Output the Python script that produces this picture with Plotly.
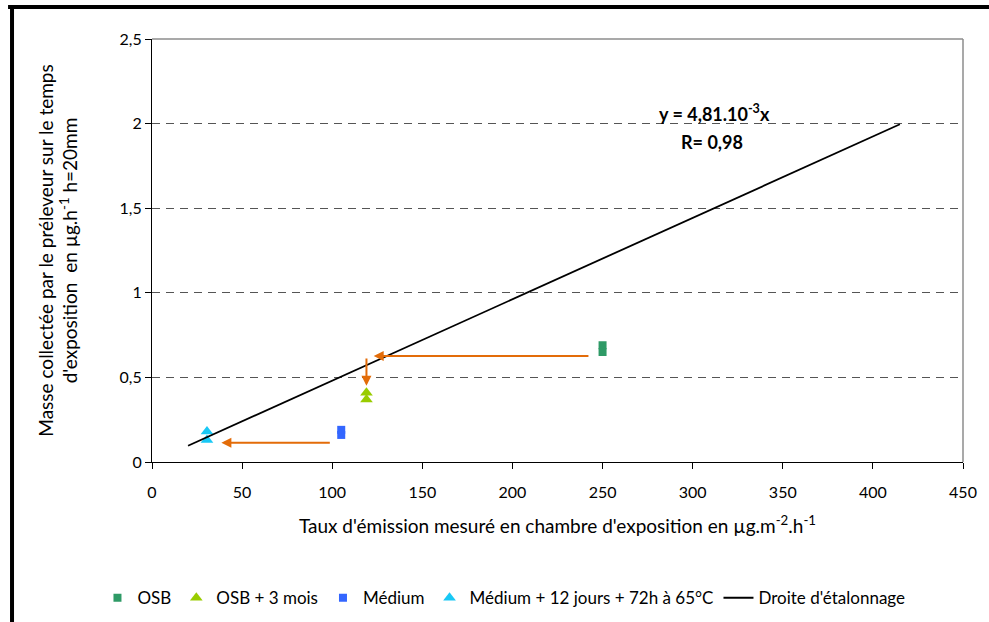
import plotly.graph_objects as go

# Data
osb_x = [250, 250]
osb_y = [0.69, 0.65]
osb3_x = [119, 119]
osb3_y = [0.41, 0.37]
med_x = [105, 105]
med_y = [0.19, 0.16]
med12_x = [30.5, 30.5]
med12_y = [0.18, 0.13]
line_x = [20, 415]
line_y = [0.096, 1.996]

x_ticks = [0, 50, 100, 150, 200, 250, 300, 350, 400, 450]
y_ticks = [0, 0.5, 1, 1.5, 2, 2.5]
y_ticklabels = ["0", "0,5", "1", "1,5", "2", "2,5"]

# arrows: (x_from, y_from, x_to, y_to)
arrows = [
    (243, 0.627, 123, 0.627),
    (119, 0.62, 119, 0.45),
    (99.5, 0.114, 38.5, 0.114),
]

FONT = "Lato"
ORANGE = "#E36C09"

fig = go.Figure()
fig.add_trace(go.Scatter(x=osb_x, y=osb_y, mode="markers", name="OSB",
                         marker=dict(symbol="square", size=8, color="#2E9A66")))
fig.add_trace(go.Scatter(x=osb3_x, y=osb3_y, mode="markers", name="OSB + 3 mois",
                         marker=dict(symbol="triangle-up", size=11, color="#99CC00")))
fig.add_trace(go.Scatter(x=med_x, y=med_y, mode="markers", name="Médium",
                         marker=dict(symbol="square", size=8, color="#3366FF")))
fig.add_trace(go.Scatter(x=med12_x, y=med12_y, mode="markers", name="Médium + 12 jours + 72h à 65°C",
                         marker=dict(symbol="triangle-up", size=11, color="#19C8F5")))
fig.add_trace(go.Scatter(x=line_x, y=line_y, mode="lines", name="Droite d'étalonnage",
                         line=dict(color="black", width=1.8)))

for (x0, y0, x1, y1) in arrows:
    fig.add_annotation(x=x1, y=y1, ax=x0, ay=y0, xref="x", yref="y", axref="x", ayref="y",
                       showarrow=True, arrowhead=2, arrowsize=1.0, arrowwidth=2,
                       arrowcolor=ORANGE, text="")

fig.add_annotation(x=312, y=2.06, xref="x", yref="y", showarrow=False,
                   text="<b>y = 4,81.10<sup>-3</sup>x</b>", font=dict(size=18, color="black", family=FONT))
fig.add_annotation(x=311, y=1.89, xref="x", yref="y", showarrow=False,
                   text="<b>R= 0,98</b>", font=dict(size=18, color="black", family=FONT))

# plot border top/right (grey) and outer frame (black)
fig.add_shape(type="line", xref="paper", yref="paper", x0=0, x1=1, y0=1, y1=1,
              line=dict(color="#8C8C8C", width=1.5))
fig.add_shape(type="line", xref="paper", yref="paper", x0=1, x1=1, y0=0, y1=1,
              line=dict(color="#8C8C8C", width=1.5))
fig.add_shape(type="line", xref="paper", yref="paper", x0=-0.1775, x1=1.04, y0=1.0757, y1=1.0757,
              line=dict(color="black", width=4))
fig.add_shape(type="line", xref="paper", yref="paper", x0=-0.1726, x1=-0.1726, y0=1.08, y1=-0.40,
              line=dict(color="black", width=4))

fig.update_layout(
    width=989, height=622,
    margin=dict(l=152, r=26, t=39, b=160, autoexpand=False),
    paper_bgcolor="white", plot_bgcolor="white",
    font=dict(family=FONT, size=16, color="black"),
    showlegend=True,
    legend=dict(orientation="h", x=0.434, xanchor="center", y=-0.322, yanchor="middle",
                font=dict(size=17, family=FONT), itemwidth=30, bgcolor="rgba(0,0,0,0)"),
    xaxis=dict(range=[0, 450], tickvals=x_ticks, showgrid=False, zeroline=False,
               showline=True, linecolor="black", linewidth=1, ticks="outside", ticklen=6,
               tickcolor="black", ticklabelstandoff=10, automargin=False,
               title=dict(text="Taux d'émission mesuré en chambre d'exposition en µg.m<sup>-2</sup>.h<sup>-1</sup>",
                          font=dict(size=19), standoff=19)),
    yaxis=dict(range=[0, 2.5], tickvals=y_ticks, ticktext=y_ticklabels, showgrid=True,
               gridcolor="#555555", griddash="8px,6px", gridwidth=1, zeroline=False,
               showline=True, linecolor="black", linewidth=1, ticks="outside", ticklen=6,
               tickcolor="black", automargin=False,
               title=dict(text="Masse collectée par le préleveur sur le temps<br>d'exposition  en µg.h<sup>-1</sup> h=20mm",
                          font=dict(size=19), standoff=36)),
)

fig.write_html("out.html", config={"displayModeBar": False},
               post_script="document.body.style.margin='0';document.body.style.overflow='hidden';")
